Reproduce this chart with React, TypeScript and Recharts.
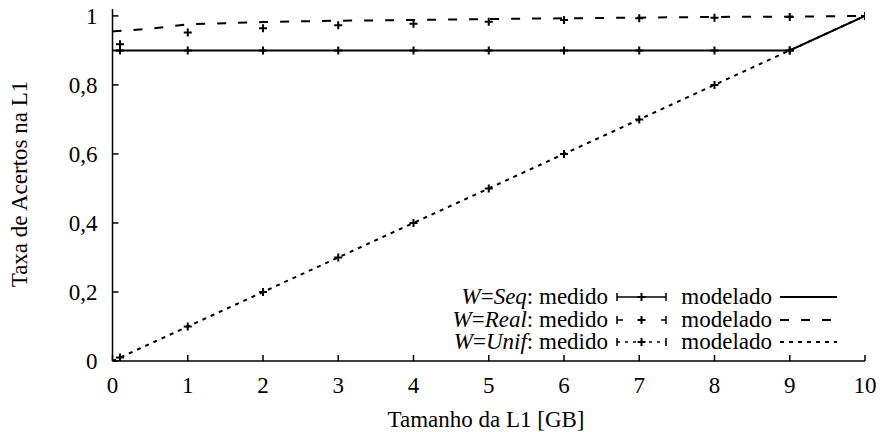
// HitRateChart.tsx
import React from 'react';
import { LineChart, Line, XAxis, YAxis, Legend } from 'recharts';

const FONT = 'Liberation Serif, DejaVu Serif, serif';
const FONT_SIZE = 23;

// medidas (pontos) por tamanho da L1 em GB
const measuredSizes = [0.1, 1, 2, 3, 4, 5, 6, 7, 8, 9, 10];
const seqMeasured = [0.9, 0.9, 0.9, 0.9, 0.9, 0.9, 0.9, 0.9, 0.9, 0.9, 1.0];
const realMeasured = [0.918, 0.952, 0.964, 0.973, 0.977, 0.983, 0.988, 0.993, 0.995, 0.997, 1.0];
const unifMeasured = [0.01, 0.1, 0.2, 0.3, 0.4, 0.5, 0.6, 0.7, 0.8, 0.9, 1.0];

// curvas do modelo
const modelSizes = [0, 1, 2, 3, 4, 5, 6, 7, 8, 9, 10];
const seqModel = [0.9, 0.9, 0.9, 0.9, 0.9, 0.9, 0.9, 0.9, 0.9, 0.9, 1.0];
const unifModel = [0, 0.1, 0.2, 0.3, 0.4, 0.5, 0.6, 0.7, 0.8, 0.9, 1.0];
const realModelSizes = [0, 0.5, 1, 1.5, 2, 3, 4, 5, 6, 7, 8, 9, 10];
const realModel = [0.955, 0.963, 0.975, 0.979, 0.982, 0.986, 0.988, 0.991, 0.993, 0.995, 0.997, 0.998, 1.0];

const xTicks = [0, 1, 2, 3, 4, 5, 6, 7, 8, 9, 10];
const yTicks = [0, 0.2, 0.4, 0.6, 0.8, 1];

const workloads = ['Seq', 'Real', 'Unif'];

const zip = (xs: number[], ys: number[]) => xs.map((x, i) => ({ x, y: ys[i] }));

const DASHED = '9 12';
const DOTTED = '4 5';

const Cross = (props: any) => {
  const { cx, cy, key } = props;
  if (cx == null || cy == null) return <g key={key} />;
  return (
    <path
      key={key}
      d={`M${cx - 4},${cy}h8M${cx},${cy - 4}v8`}
      stroke="#000"
      strokeWidth={2}
      fill="none"
    />
  );
};

const fmtY = (v: number) => String(Math.round(v * 10) / 10).replace('.', ',');

const emptyTick = () => <g />;

const MeasuredSample = ({ dash }: { dash?: string }) => (
  <svg width={51} height={20} style={{ display: 'block' }}>
    <line x1={1} y1={10} x2={50} y2={10} stroke="#000" strokeWidth={1.5} strokeDasharray={dash} />
    <line x1={1} y1={6} x2={1} y2={14} stroke="#000" strokeWidth={1.5} />
    <line x1={50} y1={6} x2={50} y2={14} stroke="#000" strokeWidth={1.5} />
    <path d="M21.5,10h8M25.5,6v8" stroke="#000" strokeWidth={2} />
  </svg>
);

const ModelSample = ({ dash }: { dash?: string }) => (
  <svg width={57} height={20} style={{ display: 'block' }}>
    <line x1={0} y1={10} x2={57} y2={10} stroke="#000" strokeWidth={2} strokeDasharray={dash} />
  </svg>
);

const legendDash = [undefined, DASHED, DOTTED];
const legendMeasuredDash = [undefined, '6 16', '3 5'];

const renderLegend = () => (
  <div
    style={{
      display: 'grid',
      gridTemplateColumns: '168px 51px 97px 57px',
      columnGap: 8,
      gridAutoRows: '22.5px',
      alignItems: 'center',
      fontFamily: FONT,
      fontSize: FONT_SIZE,
      lineHeight: '20px',
      color: '#000',
    }}
  >
    {workloads.map((w, i) => (
      <React.Fragment key={w}>
        <div style={{ textAlign: 'right', whiteSpace: 'nowrap' }}>
          <i>W</i>=<i>{w}</i>: medido
        </div>
        <MeasuredSample dash={legendMeasuredDash[i]} />
        <div style={{ textAlign: 'right' }}>modelado</div>
        <ModelSample dash={legendDash[i]} />
      </React.Fragment>
    ))}
  </div>
);

export default function App() {
  const tickStyle = { fill: '#000', fontSize: FONT_SIZE, fontFamily: FONT };
  const axisLine = { stroke: '#000', strokeWidth: 1.5 };
  const tickLine = { stroke: '#000', strokeWidth: 1.5 };

  return (
    <div style={{ position: 'absolute', left: 0, top: 0, background: '#fff', fontFamily: FONT }}>
      <LineChart width={880} height={432} margin={{ top: 9, right: 15, bottom: 31, left: 52.5 }}>
        <XAxis
          dataKey="x"
          type="number"
          domain={[0, 10]}
          ticks={xTicks}
          allowDataOverflow
          height={40}
          tickSize={-6}
          tickMargin={22}
          axisLine={axisLine}
          tickLine={tickLine}
          tick={tickStyle}
          interval={0}
          label={{
            content: () => (
              <text x={486} y={427} textAnchor="middle" fontFamily={FONT} fontSize={FONT_SIZE} fill="#000">
                Tamanho da L1 [GB]
              </text>
            ),
          }}
        />
        <XAxis
          xAxisId="top"
          orientation="top"
          dataKey="x"
          type="number"
          domain={[0, 10]}
          ticks={xTicks}
          allowDataOverflow
          height={0}
          tickSize={-6}
          axisLine={axisLine}
          tickLine={tickLine}
          tick={emptyTick}
          interval={0}
        />
        <YAxis
          type="number"
          domain={[0, 1.02]}
          ticks={yTicks}
          allowDataOverflow
          width={60}
          tickSize={-6}
          tickMargin={21}
          axisLine={axisLine}
          tickLine={tickLine}
          tick={tickStyle}
          tickFormatter={fmtY}
          interval={0}
          label={{
            content: () => (
              <text
                transform="translate(27,184) rotate(-90)"
                textAnchor="middle"
                fontFamily={FONT}
                fontSize={FONT_SIZE}
                fill="#000"
              >
                Taxa de Acertos na L1
              </text>
            ),
          }}
        />
        <YAxis
          yAxisId="right"
          orientation="right"
          type="number"
          domain={[0, 1.02]}
          ticks={yTicks}
          allowDataOverflow
          width={0}
          tickSize={-6}
          axisLine={axisLine}
          tickLine={tickLine}
          tick={emptyTick}
          interval={0}
        />

        <Line
          data={zip(modelSizes, unifModel)}
          dataKey="y"
          stroke="#000"
          strokeWidth={2}
          strokeDasharray={DOTTED}
          dot={false}
          activeDot={false}
          isAnimationActive={false}
          legendType="none"
        />
        <Line
          data={zip(realModelSizes, realModel)}
          dataKey="y"
          type="monotone"
          stroke="#000"
          strokeWidth={2}
          strokeDasharray={DASHED}
          dot={false}
          activeDot={false}
          isAnimationActive={false}
          legendType="none"
        />
        <Line
          data={zip(modelSizes, seqModel)}
          dataKey="y"
          stroke="#000"
          strokeWidth={2}
          dot={false}
          activeDot={false}
          isAnimationActive={false}
          legendType="none"
        />
        {[seqMeasured, realMeasured, unifMeasured].map((ys, i) => (
          <Line
            key={workloads[i]}
            data={zip(measuredSizes, ys)}
            dataKey="y"
            stroke="none"
            dot={Cross}
            activeDot={false}
            isAnimationActive={false}
            legendType="none"
          />
        ))}

        <Legend
          layout="vertical"
          align="center"
          verticalAlign="middle"
          content={renderLegend}
          wrapperStyle={{ position: 'absolute', left: 440, top: 286, width: 400, height: 68 }}
        />
      </LineChart>
    </div>
  );
}
